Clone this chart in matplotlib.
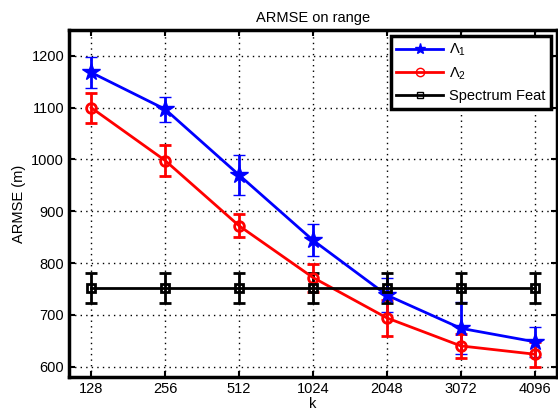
import matplotlib
matplotlib.use('Agg')
import matplotlib.pyplot as plt
from matplotlib.lines import Line2D
import numpy as np

plt.rcParams['font.family'] = ['Liberation Sans', 'DejaVu Sans']
plt.rcParams['mathtext.fontset'] = 'custom'
plt.rcParams['mathtext.rm'] = 'Liberation Sans'
plt.rcParams['mathtext.it'] = 'Liberation Sans'

labels = ['128', '256', '512', '1024', '2048', '3072', '4096']
lambda1 = [1168, 1097, 970, 844, 738, 674, 648]
lambda1_err = [30, 24, 38, 31, 33, 50, 29]
lambda2 = [1100, 998, 872, 772, 694, 640, 624]
lambda2_err = [29, 30, 22, 27, 35, 23, 24]
spectrum = [752, 752, 752, 752, 752, 752, 752]
spectrum_err = [29, 29, 29, 29, 29, 29, 29]

x = np.arange(1, len(labels) + 1)

fig = plt.figure(figsize=(5.58, 4.11), dpi=100)
ax = fig.add_axes([69 / 558, 34 / 411, 488 / 558, 347 / 411])

ax.errorbar(x, lambda1, yerr=lambda1_err, color='#0000ff', marker='*',
            markersize=13, mew=1, lw=2, elinewidth=2,
            capsize=4, capthick=2, zorder=3)
ax.errorbar(x, lambda2, yerr=lambda2_err, color='#ff0000', marker='o',
            markersize=7, mfc='none', mew=2, lw=2, elinewidth=2,
            capsize=4, capthick=2, zorder=3)
ax.errorbar(x, spectrum, yerr=spectrum_err, color='black', marker='s',
            markersize=6, mfc='none', mew=2, lw=2, elinewidth=2,
            capsize=4, capthick=2, zorder=3)

ax.set_xlim(0.7, 7.3)
ax.set_ylim(580, 1250)
ax.set_xticks(x)
ax.set_xticklabels(labels)
ax.set_yticks([600, 700, 800, 900, 1000, 1100, 1200])
ax.grid(True, color='black', linestyle=(0, (1, 3)), linewidth=1)
ax.tick_params(direction='in', top=True, right=True, labelsize=10.5, length=4, width=1.5)
for s in ax.spines.values():
    s.set_linewidth(2.5)

ax.set_title('ARMSE on range', fontsize=10.5, pad=6)
ax.set_xlabel('k', fontsize=10.5, labelpad=1)
ax.set_ylabel('ARMSE (m)', fontsize=10.5)

handles = [
    Line2D([], [], color='#0000ff', lw=2, marker='*', markersize=8),
    Line2D([], [], color='#ff0000', lw=2, marker='o', markersize=6, mfc='none', mew=1),
    Line2D([], [], color='black', lw=2, marker='s', markersize=5, mfc='none', mew=1),
]
leg = ax.legend(handles, [r'$\Lambda_1$', r'$\Lambda_2$', 'Spectrum Feat'],
                loc='upper right', fontsize=10.5, fancybox=False, framealpha=1,
                edgecolor='black', borderaxespad=0.4, handlelength=3.2,
                labelspacing=0.5, handletextpad=0.4)
leg.get_frame().set_linewidth(2.5)

fig.savefig('out.png', dpi=100)
